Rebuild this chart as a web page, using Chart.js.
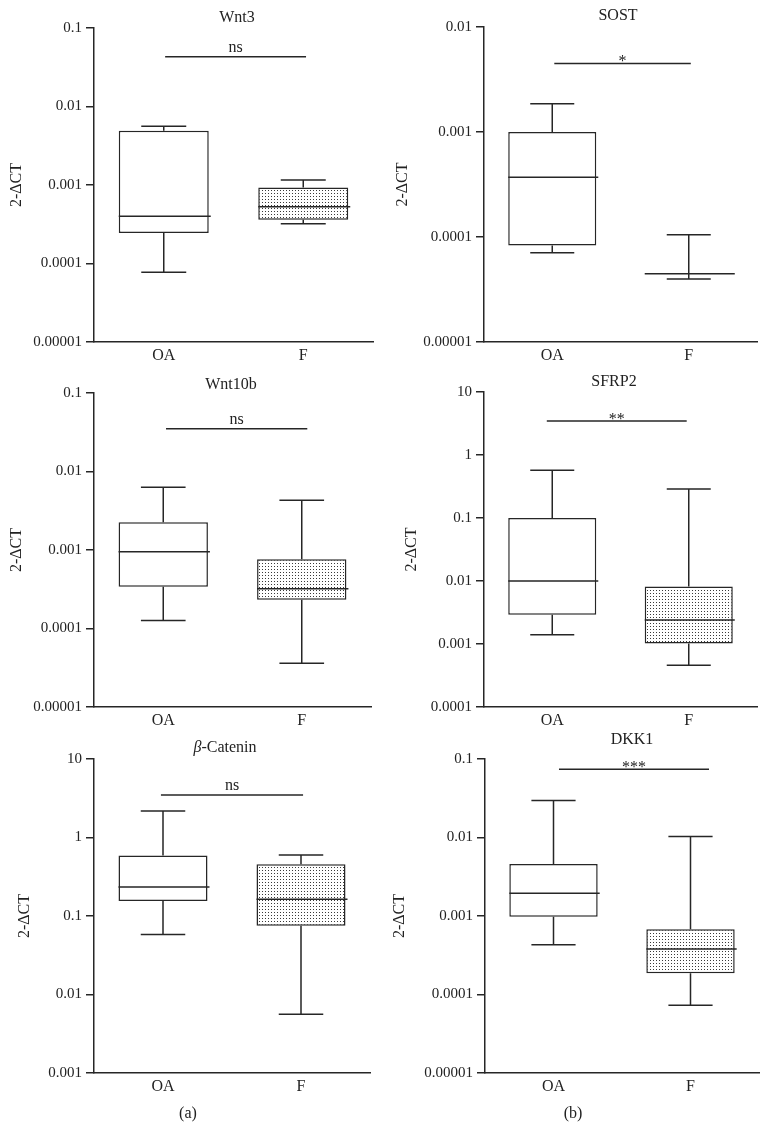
<!DOCTYPE html>
<html>
<head>
<meta charset="utf-8">
<script src="https://cdn.jsdelivr.net/npm/chart.js@4"></script>
<style>
  body { margin: 0; background: #fff; width: 770px; height: 1146px; position: relative; overflow: hidden; }
  .panel { position: absolute; }
  .tag { position: absolute; font: 16px "Liberation Serif", serif; color: #222; transform: translate(-50%, -50%); }
</style>
</head>
<body>
<div class="panel" style="left:0;top:0;width:385px;height:370px"><canvas id="c0"></canvas></div>
<div class="panel" style="left:385px;top:0;width:385px;height:370px"><canvas id="c1"></canvas></div>
<div class="panel" style="left:0;top:370px;width:385px;height:370px"><canvas id="c2"></canvas></div>
<div class="panel" style="left:385px;top:370px;width:385px;height:370px"><canvas id="c3"></canvas></div>
<div class="panel" style="left:0;top:725px;width:385px;height:385px"><canvas id="c4"></canvas></div>
<div class="panel" style="left:385px;top:725px;width:385px;height:385px"><canvas id="c5"></canvas></div>
<div class="tag" style="left:188px;top:1113px">(a)</div>
<div class="tag" style="left:573px;top:1113px">(b)</div>
<script>
const groups = ['OA', 'F'];

// each row: [lower whisker, Q1, median, Q3, upper whisker]
const wnt3OA = [0.0000776, 0.000245, 0.0004, 0.0049, 0.0056];
const wnt3F = [0.00032, 0.00036, 0.00053, 0.00093, 0.00116];
const sostOA = [0.0000708, 0.000083, 0.00037, 0.001, 0.00186];
const sostF = [0.0000398, 0.0000445, 0.0000447, 0.000045, 0.000105];
const wnt10bOA = [0.000126, 0.00034, 0.00095, 0.00225, 0.0063];
const wnt10bF = [0.000036, 0.000233, 0.00032, 0.00076, 0.0043];
const sfrp2OA = [0.0014, 0.0029, 0.01, 0.1, 0.575];
const sfrp2F = [0.00046, 0.00102, 0.0024, 0.0082, 0.288];
const catOA = [0.058, 0.155, 0.234, 0.59, 2.18];
const catF = [0.0056, 0.075, 0.163, 0.455, 0.6];
const dkk1OA = [0.00043, 0.00098, 0.00195, 0.0046, 0.0295];
const dkk1F = [0.0000727, 0.000187, 0.00038, 0.00068, 0.0103];

const ticksA = [0.00001, 0.0001, 0.001, 0.01, 0.1];
const labelsA = ['0.00001', '0.0001', '0.001', '0.01', '0.1'];
const ticksSost = [0.00001, 0.0001, 0.001, 0.01];
const labelsSost = ['0.00001', '0.0001', '0.001', '0.01'];
const ticksSfrp = [0.0001, 0.001, 0.01, 0.1, 1, 10];
const labelsSfrp = ['0.0001', '0.001', '0.01', '0.1', '1', '10'];
const ticksCat = [0.001, 0.01, 0.1, 1, 10];
const labelsCat = ['0.001', '0.01', '0.1', '1', '10'];

const titles = ['Wnt3', 'SOST', 'Wnt10b', 'SFRP2', 'β-Catenin', 'DKK1'];
const sigText = ['ns', '*', 'ns', '**', 'ns', '***'];
const sigLevel = [0.043, 0.0045, 0.035, 3.47, 3.47, 0.074];

const INK = '#262626';
const FONT = '"Liberation Serif", serif';

// stipple fill for the F boxes
const dots = document.createElement('canvas');
dots.width = 3; dots.height = 3;
const dctx = dots.getContext('2d');
dctx.fillStyle = '#fff';
dctx.fillRect(0, 0, 3, 3);
dctx.fillStyle = '#3a3a3a';
dctx.fillRect(1, 1, 1, 1);
const dotFill = dctx.createPattern(dots, 'repeat');

// panel frames in page pixels
const panels = [
  { oa: wnt3OA, f: wnt3F, ticks: ticksA, labels: labelsA, box: [0, 0, 385, 370], area: [94, 28, 373, 342], titleXY: [237, 18], yTitleX: 17, sigSpan: [0.01, 1.02] },
  { oa: sostOA, f: sostF, ticks: ticksSost, labels: labelsSost, box: [385, 0, 385, 370], area: [484, 27, 757, 342], titleXY: [618, 16], yTitleX: 18, sigSpan: [0.015, 1.015] },
  { oa: wnt10bOA, f: wnt10bF, ticks: ticksA, labels: labelsA, box: [0, 370, 385, 370], area: [94, 393, 371, 707], titleXY: [231, 385], yTitleX: 17, sigSpan: [0.02, 1.04] },
  { oa: sfrp2OA, f: sfrp2F, ticks: ticksSfrp, labels: labelsSfrp, box: [385, 370, 385, 370], area: [484, 392, 757, 707], titleXY: [614, 382], yTitleX: 27, sigSpan: [-0.04, 0.985] },
  { oa: catOA, f: catF, ticks: ticksCat, labels: labelsCat, box: [0, 725, 385, 385], area: [94, 759, 370, 1073], titleXY: [225, 748], yTitleX: 25, sigSpan: [-0.015, 1.015] },
  { oa: dkk1OA, f: dkk1F, ticks: ticksA, labels: labelsA, box: [385, 725, 385, 385], area: [485, 759, 759, 1073], titleXY: [632, 740], yTitleX: 15, sigSpan: [0.04, 1.135] },
];

const boxDeco = {
  id: 'boxDeco',
  afterDatasetsDraw(chart, args, opts) {
    const ctx = chart.ctx;
    const x = chart.scales.x, y = chart.scales.y;
    const meta = chart.getDatasetMeta(0);
    ctx.save();
    ctx.strokeStyle = INK;
    ctx.lineWidth = 1.5;
    opts.stats.forEach((s, i) => {
      const bar = meta.data[i];
      const cx = x.getPixelForValue(i);
      const half = bar.width / 2;
      const cap = bar.width / 4;
      const [lo, q1, med, q3, hi] = s.map(v => y.getPixelForValue(v));
      ctx.beginPath();
      ctx.moveTo(cx, q3); ctx.lineTo(cx, hi);
      ctx.moveTo(cx - cap, hi); ctx.lineTo(cx + cap, hi);
      ctx.moveTo(cx, q1); ctx.lineTo(cx, lo);
      ctx.moveTo(cx - cap, lo); ctx.lineTo(cx + cap, lo);
      ctx.moveTo(cx - half, med); ctx.lineTo(cx + half + 2, med);
      ctx.stroke();
    });
    // significance bar
    const sy = y.getPixelForValue(opts.sigLevel);
    const x0 = x.getPixelForValue(opts.sigSpan[0]);
    const x1 = x.getPixelForValue(opts.sigSpan[1]);
    ctx.beginPath();
    ctx.moveTo(x0, sy); ctx.lineTo(x1, sy);
    ctx.stroke();
    ctx.fillStyle = '#222';
    ctx.textAlign = 'center';
    ctx.textBaseline = 'alphabetic';
    ctx.font = '16px ' + FONT;
    const isStar = opts.sigText.indexOf('*') >= 0;
    ctx.fillText(opts.sigText, (x0 + x1) / 2, isStar ? sy + 3 : sy - 5);
    // panel title
    ctx.textBaseline = 'middle';
    const [tx, ty] = opts.titleXY;
    if (opts.title.startsWith('β')) {
      const rest = opts.title.slice(1);
      ctx.font = 'italic 16px ' + FONT;
      const wb = ctx.measureText('β').width;
      ctx.font = '16px ' + FONT;
      const wr = ctx.measureText(rest).width;
      const left = tx - (wb + wr) / 2;
      ctx.textAlign = 'left';
      ctx.font = 'italic 16px ' + FONT;
      ctx.fillText('β', left, ty);
      ctx.font = '16px ' + FONT;
      ctx.fillText(rest, left + wb, ty);
    } else {
      ctx.fillText(opts.title, tx, ty);
    }
    ctx.restore();
  }
};

panels.forEach((p, i) => {
  const [bl, bt, bw, bh] = p.box;
  const [al, at, ar, ab] = p.area;
  new Chart(document.getElementById('c' + i), {
    type: 'bar',
    data: {
      labels: groups,
      datasets: [{
        data: [[p.oa[1], p.oa[3]], [p.f[1], p.f[3]]],
        backgroundColor: ['#fff', dotFill],
        borderColor: INK,
        borderWidth: 1.5,
        borderSkipped: false,
        barPercentage: 0.645,
        categoryPercentage: 1,
      }]
    },
    options: {
      responsive: true,
      maintainAspectRatio: false,
      animation: false,
      layout: { padding: { left: 0, bottom: 0, top: at - bt, right: bl + bw - ar } },
      plugins: {
        legend: { display: false },
        tooltip: { enabled: false },
        boxDeco: {
          stats: [p.oa, p.f],
          sigLevel: sigLevel[i],
          sigText: sigText[i],
          sigSpan: p.sigSpan,
          title: titles[i],
          titleXY: [p.titleXY[0] - bl, p.titleXY[1] - bt],
        },
      },
      scales: {
        x: {
          type: 'category',
          offset: true,
          grid: { display: false, drawTicks: false },
          border: { display: true, color: INK, width: 1.5 },
          ticks: { color: '#222', padding: 4, font: { family: FONT, size: 16 } },
          afterFit: (s) => { s.height = bt + bh - ab; },
        },
        y: {
          type: 'logarithmic',
          min: p.ticks[0],
          max: p.ticks[p.ticks.length - 1],
          afterBuildTicks: (s) => { s.ticks = p.ticks.map(v => ({ value: v })); },
          afterFit: (s) => { s.width = al - bl; },
          grid: { display: true, drawOnChartArea: false, drawTicks: true, tickLength: 8, color: INK, lineWidth: 1.5 },
          border: { display: true, color: INK, width: 1.5 },
          ticks: {
            autoSkip: false,
            color: '#222',
            padding: 4,
            font: { family: FONT, size: 15 },
            callback: (v, idx) => p.labels[idx],
          },
          title: {
            display: true,
            text: '2-ΔCT',
            color: '#222',
            font: { family: FONT, size: 16 },
            padding: { top: p.yTitleX - 9.6, bottom: 0 },
          },
        },
      },
    },
    plugins: [boxDeco],
  });
});
</script>
</body>
</html>
